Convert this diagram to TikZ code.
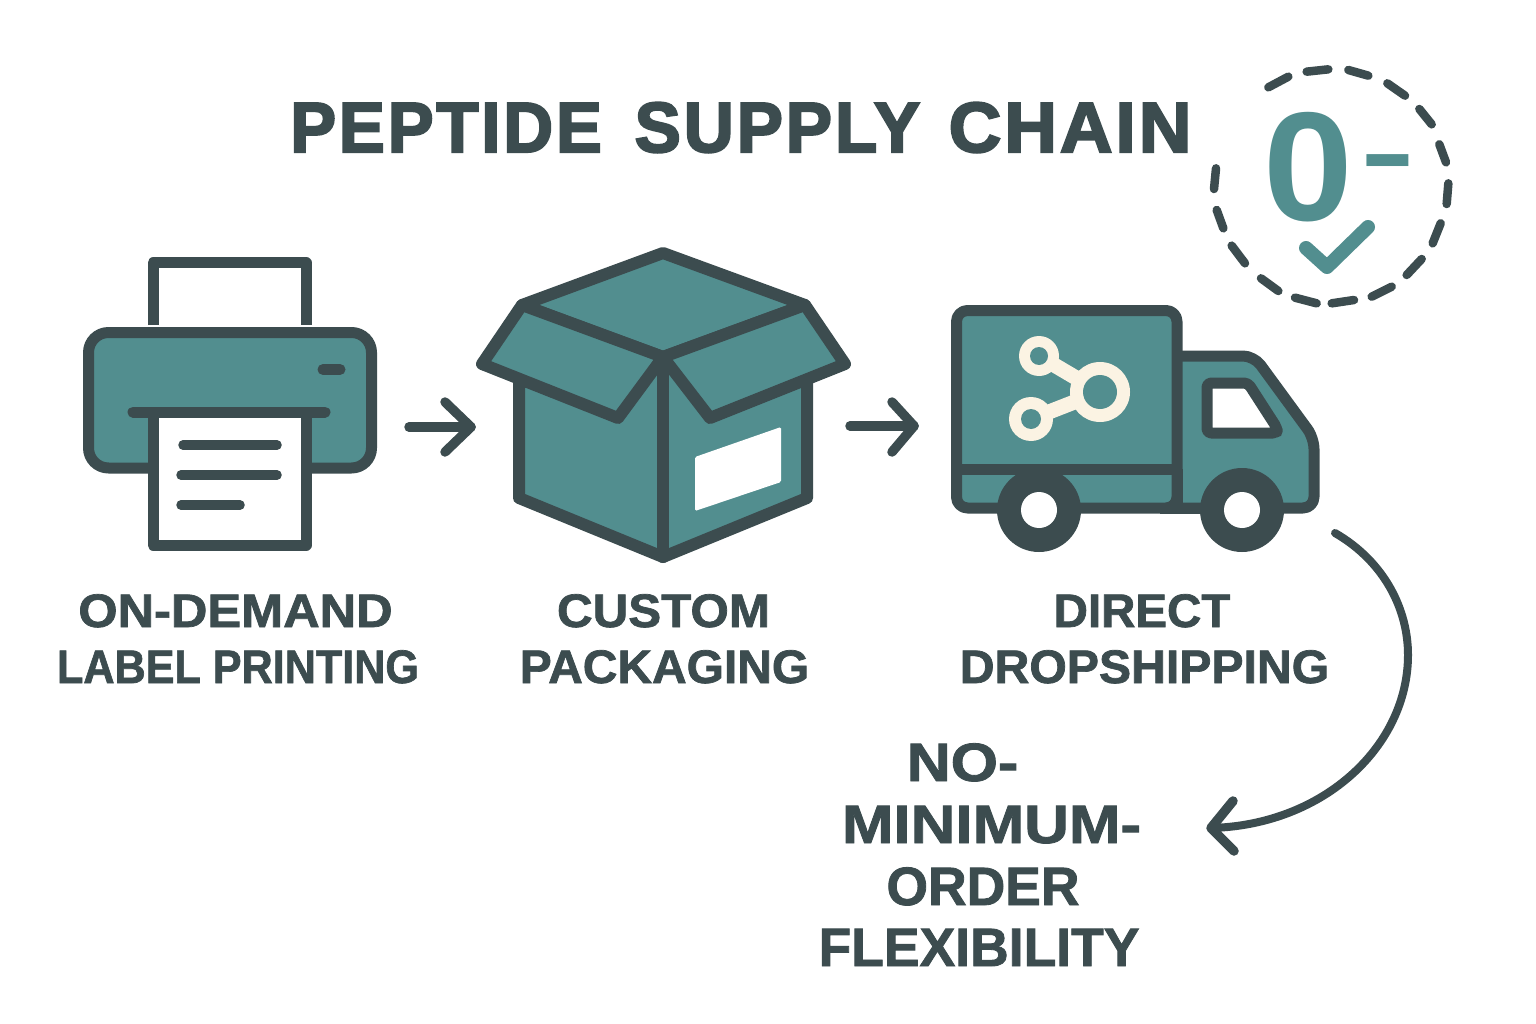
\documentclass[tikz,border=0pt]{standalone}
\usepackage{graphicx}
\usepackage{fontspec}
\setmainfont{Liberation Sans}
\usetikzlibrary{calc}
\definecolor{ink}{HTML}{3C4C4F}
\definecolor{teal1}{HTML}{528E8F}
\definecolor{cream}{HTML}{FBF3E3}
\tikzset{
  line/.style={draw=ink,line width=11pt,line join=round,line cap=round},
  panel/.style={line,fill=teal1},
  boxpanel/.style={panel,line width=12pt},
  sheet/.style={line,fill=white},
  rule/.style={draw=ink,line width=9.5pt,line cap=round},
  dashseg/.style={draw=ink,line width=8.5pt,line cap=round},
  flow/.style={draw=ink,line width=9.5pt,line cap=round,line join=round},
  curveline/.style={draw=ink,line width=8pt,line cap=round,line join=round},
  lab/.style={font=\bfseries\fontsize{47}{47}\selectfont\addfontfeature{FakeBold=1.5},text=ink,inner sep=0pt,anchor=base},
  bigl/.style={font=\bfseries\fontsize{54}{54}\selectfont\addfontfeature{FakeBold=1.5},text=ink,inner sep=0pt,anchor=base},
  ttl/.style={font=\bfseries\fontsize{71}{71}\selectfont\addfontfeature{FakeBold=3,LetterSpace=4.2},text=ink,inner sep=0pt,anchor=base west},
}
\begin{document}
\begin{tikzpicture}[x=1pt,y=-1pt]
\useasboundingbox (0,0) rectangle (1536,1024);
\fill[white] (0,0) rectangle (1536,1024);
% title
\node[ttl] (title) at (290,152) {\scalebox{.969}[1]{PEPTIDE}\hspace{10pt} \scalebox{.976}[1]{SUPPLY}\hspace{6pt} \scalebox{1.025}[1]{CHAIN}};
% printer
\draw[line,line cap=butt,line join=round] (153,325) -- (153,263) -- (306,263) -- (306,325);
\draw[panel,rounded corners=20pt] (88.5,332.5) rectangle (371.5,468);
\draw[draw=ink,line width=11pt,line cap=round] (323,369.5) -- (340,369.5);
\draw[sheet,line join=round] (153,412) rectangle (306,545);
\draw[line] (133,412) -- (325,412);
\draw[rule] (183,445) -- (277,445);
\draw[rule] (181,475) -- (277,475);
\draw[rule] (181,505) -- (240,505);
% arrows
\coordinate (a1s) at (409,427); \coordinate (a1e) at (471,427);
\draw[flow] (a1s) -- (a1e);
\draw[flow] (445,402) -- (a1e) -- (445,452);
\coordinate (a2s) at (850,426); \coordinate (a2e) at (914,426);
\draw[flow] (a2s) -- (a2e);
\draw[flow] (892,402) -- (a2e) -- (892,452);
% box
\draw[boxpanel] (519,383) -- (519,498) -- (663,557) -- (807,498) -- (807,383) -- (663,357) -- cycle;
\draw[boxpanel] (663,357) -- (663,557);
\fill[white,rounded corners=1.5pt] (695,457) -- (781,427) -- (781,482) -- (695,511) -- cycle;
\draw[boxpanel] (663,253) -- (805,305) -- (663,357) -- (522,305) -- cycle;
\draw[boxpanel] (522,305) -- (482,364) -- (618,418) -- (663,357) -- cycle;
\draw[boxpanel] (805,305) -- (845,364) -- (710,418) -- (663,357) -- cycle;
% truck
\draw[panel,rounded corners=11pt] (1160,356) -- (1254,356) -- (1314,438) -- (1314,508) -- (1160,508) -- cycle;
\draw[panel,rounded corners=11pt] (956.5,310.5) rectangle (1177,508);
\draw[line,line cap=butt] (956,469) -- (1177,469);
\draw[line,line cap=butt] (1177,469) -- (1177,513.5);
\draw[line,line cap=butt] (1160,508) -- (1200,508);
\draw[line,fill=white,rounded corners=4pt] (1207,383) -- (1248,383) -- (1277,428) -- (1277,433) -- (1207,433) -- cycle;
\fill[ink] (1039,510) circle (42pt);
\fill[white] (1039,510) circle (18pt);
\fill[ink] (1242,510) circle (42pt);
\fill[white] (1242,510) circle (18pt);
% network icon
\draw[cream,line width=15pt] (1039,356) -- (1100,392);
\draw[cream,line width=15pt] (1031,419) -- (1100,392);
\fill[cream] (1100,392) circle (30pt);
\fill[teal1] (1100,392) circle (17pt);
\fill[cream] (1039,356) circle (20pt);
\fill[teal1] (1039,356) circle (9pt);
\fill[cream] (1031,419) circle (22pt);
\fill[teal1] (1031,419) circle (10pt);
% badge
\foreach \xa/\ya/\xb/\yb in {205/97/265/65,320/50/385/43,445/45/505/62,562/85/615/122,658/162/695/208,718/268/738/322,745/385/740/447,722/505/698/565,665/612/620/660,575/695/515/725,462/735/395/745,350/745/285/728,235/708/183/670,135/625/95/572,70/520/50/465,42/402/48/340}
  \draw[dashseg] ({1200+\xa/3},{55+\ya/3}) -- ({1200+\xb/3},{55+\yb/3});
\node[font=\bfseries\fontsize{155}{155}\selectfont,text=teal1,inner sep=0pt,anchor=base,xscale=1.04] (zero) at (1308.5,221) {0};
\node[font=\bfseries\fontsize{100}{100}\selectfont,text=teal1,inner sep=0pt,anchor=center,xscale=1.65] (minus) at (1388,171) {-};
\draw[draw=teal1,line width=14pt,line cap=round,line join=round] (1306,248) -- (1327,267) -- (1368,227);
% labels
\node[lab,xscale=1.075] (l1a) at (235.5,627) {ON-DEMAND};
\node[lab,xscale=.918] (l1b) at (238,683) {LABEL PRINTING};
\node[lab,xscale=1.05] (l2a) at (663.5,627) {CUSTOM};
\node[lab,xscale=1.02] (l2b) at (664.5,683) {PACKAGING};
\node[lab,xscale=1.01] (l3a) at (1142,627) {DIRECT};
\node[lab,xscale=1.025] (l3b) at (1144.5,683) {DROPSHIPPING};
\node[bigl,xscale=1.126] (n1) at (962.5,781) {NO-};
\node[bigl,xscale=1.147] (n2) at (991.5,843) {MINIMUM-};
\node[bigl,xscale=.99] (n3) at (983,905) {ORDER};
\node[bigl,xscale=.99] (n4) at (979,966) {FLEXIBILITY};
% curved arrow
\coordinate (c1) at (1335,533); \coordinate (c2) at (1211,828);
\draw[curveline] (c1) .. controls (1385,562) and (1408,610) .. (1408,655) .. controls (1408,745) and (1325,825) .. (c2);
\draw[flow] (1233,801) -- (c2) -- (1234,851);
\end{tikzpicture}
\end{document}
